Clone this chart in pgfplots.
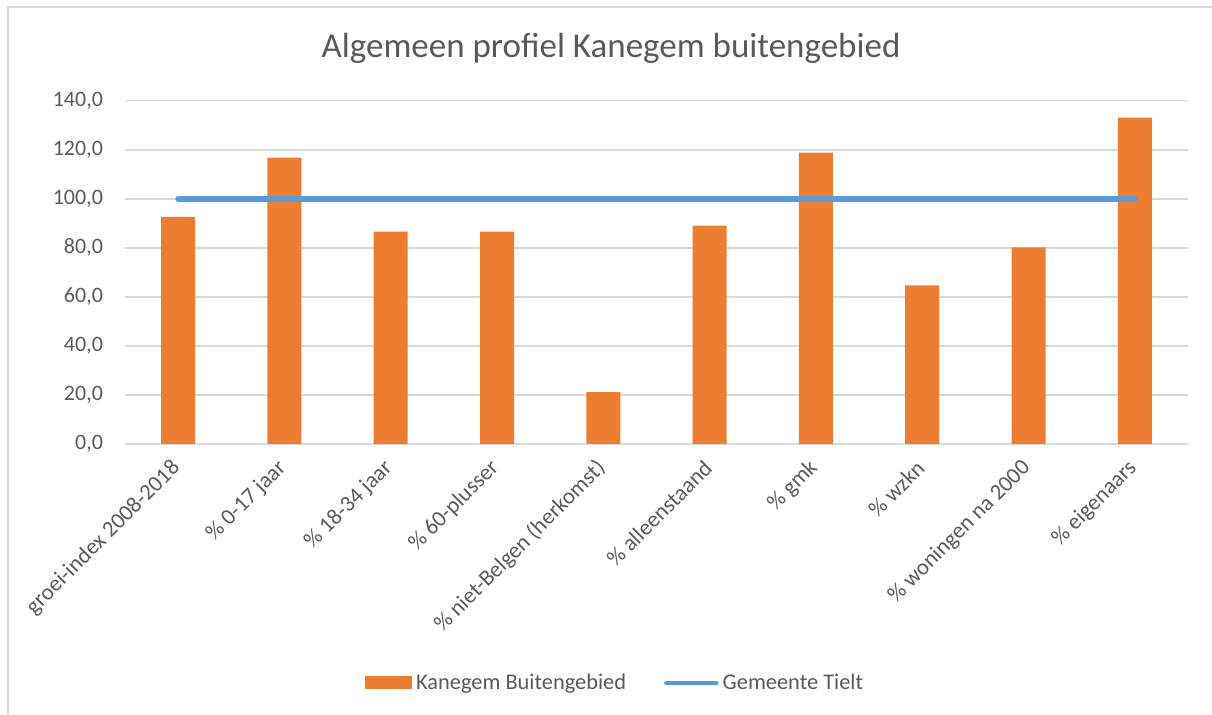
\documentclass[border=0pt]{standalone}
\usepackage{fontspec}
\setmainfont{Carlito}
\usepackage{pgfplots}
\pgfplotsset{compat=1.18}

\definecolor{barorange}{HTML}{ED7D31}
\definecolor{lineblue}{HTML}{5B9BD5}
\definecolor{txtgray}{HTML}{595959}
\definecolor{gridgray}{HTML}{D9D9D9}

\begin{document}
\begin{tikzpicture}
% 1 px of the reference = 0.5pt
\path[use as bounding box] (0,0) rectangle (606pt,357.5pt);
\draw[gridgray, line width=1pt] (4pt,0pt) -- (4pt,354pt) -- (606pt,354pt);
\node[txtgray, font=\fontsize{17.5}{20}\selectfont] at (305.5pt,333.5pt)
  {Algemeen profiel Kanegem buitengebied};

\begin{axis}[
  at={(62.5pt,135.5pt)}, anchor=south west,
  scale only axis, width=531.5pt, height=171.65pt,
  xmin=-0.5, xmax=9.5, ymin=0, ymax=140,
  ytick distance=20,
  xtick={0,...,9},
  xticklabels={groei-index 2008-2018, \% 0-17 jaar, \% 18-34 jaar, \% 60-plusser,
    \% niet-Belgen (herkomst), \% alleenstaand, \% gmk, \% wzkn,
    \% woningen na 2000, \% eigenaars},
  axis line style={draw=none},
  major tick length=0pt,
  ymajorgrids=true,
  grid style={gridgray, line width=0.8pt},
  tick label style={txtgray, font=\fontsize{11}{13}\selectfont},
  yticklabel style={xshift=-7.5pt,
    /pgf/number format/.cd, fixed, fixed zerofill, precision=1,
    use comma, 1000 sep={}, assume math mode=true},
  xticklabel style={rotate=45, anchor=east, inner sep=1pt,
    font=\fontsize{11.3}{13}\selectfont},
  xticklabel shift=9.5pt,
  legend style={at={(0.462,-0.696)}, anchor=center, draw=none, fill=none,
    legend columns=-1, font=\fontsize{11.2}{13}\selectfont, text=txtgray,
    /tikz/every even column/.append style={column sep=17pt},
    legend cell align=left},
]
\addplot[ybar, bar width=17pt, bar shift=0pt, fill=barorange, draw=none,
  legend image code/.code={\fill[barorange] (0pt,-3.25pt) rectangle (23.5pt,3.25pt);}]
  coordinates {(0,92.6) (1,116.8) (2,86.6) (3,86.6) (4,21.2)
               (5,89.0) (6,118.8) (7,64.7) (8,80.2) (9,133.1)};
\addlegendentry{Kanegem Buitengebied}
\addplot[sharp plot, lineblue, line width=2.8pt, line cap=round, mark=none,
  legend image code/.code={\draw[lineblue, line width=2.3pt, line cap=round] (0pt,0pt) -- (25pt,0pt);}]
  coordinates {(0,100) (1,100) (2,100) (3,100) (4,100)
               (5,100) (6,100) (7,100) (8,100) (9,100)};
\addlegendentry{Gemeente Tielt}
\end{axis}
\end{tikzpicture}
\end{document}
